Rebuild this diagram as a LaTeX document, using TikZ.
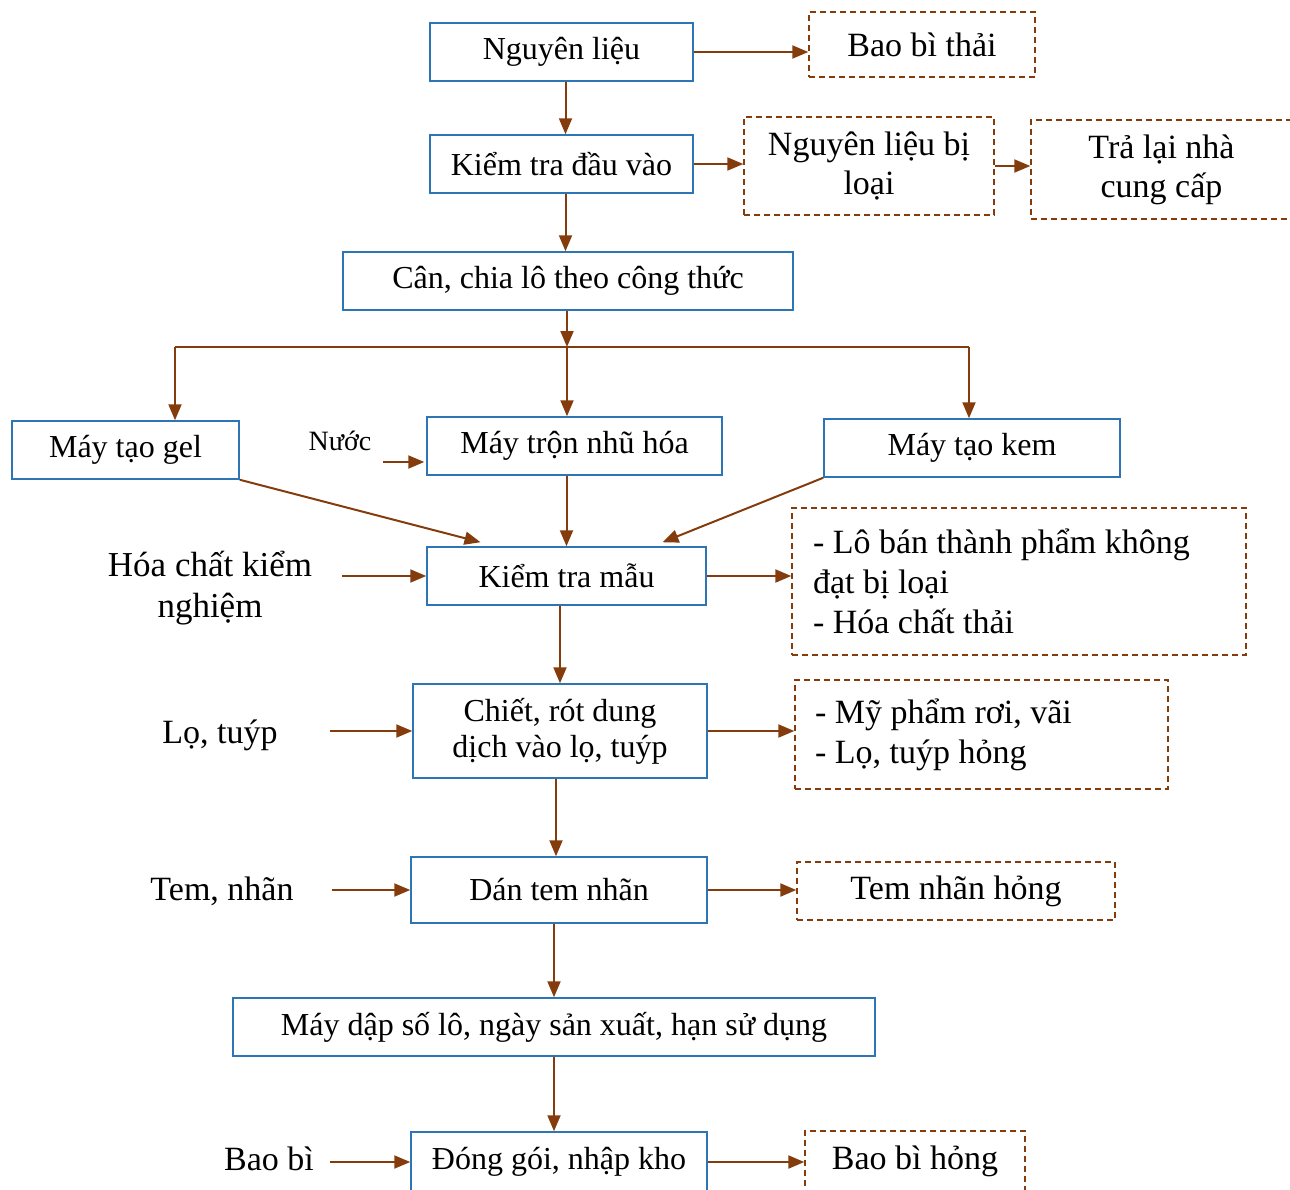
\documentclass[tikz,border=0pt]{standalone}
\usepackage{fontspec}
\setmainfont{Liberation Serif}
\usepackage{tikz}
\usetikzlibrary{
  positioning,
  arrows.meta,
  calc
}
\definecolor{boxborder}{RGB}{46,117,182}
\definecolor{wasteborder}{RGB}{132,60,12}
\definecolor{arrowcolor}{RGB}{132,60,12}
\tikzset{
  procbox/.style={
    draw=boxborder, line width=0.75pt,
    font=\fontsize{16}{18}\selectfont, align=center, inner sep=2pt
  },
  wastebox/.style={
    draw=wasteborder, line width=0.7pt, dash pattern=on 3pt off 2pt,
    font=\fontsize{17}{19.5}\selectfont, align=center
  },
  listbox/.style={
    wastebox, align=flush left, font=\fontsize{17}{20}\selectfont
  },
  inputlabel/.style={
    font=\fontsize{17}{20}\selectfont, align=center, inner sep=0pt
  },
  bigarrow/.style={
    -{Triangle[length=8pt,width=6.5pt]}, line width=1pt, draw=arrowcolor
  }
}

\begin{document}
\begin{tikzpicture}[x=0.5pt, y=-0.5pt]

    \useasboundingbox (0,0) rectangle (1290,1189);

    \node[procbox, minimum width=131.5pt, minimum height=29pt] (nl) at (561.5,52) {Nguyên liệu};
    \node[procbox, minimum width=131.5pt, minimum height=29pt] (ktdv) at (561.5,164) {Kiểm tra đầu vào};
    \node[procbox, minimum width=225pt, minimum height=29pt] (can) at (568,281) {Cân, chia lô theo công thức};

    \node[procbox, minimum width=113.5pt, minimum height=29pt] (gel) at (125.5,450) {Máy tạo gel};
    \node[procbox, minimum width=147.5pt, minimum height=29pt] (tron) at (574.5,446) {Máy trộn nhũ hóa};
    \node[procbox, minimum width=148pt, minimum height=29pt] (kem) at (972,448) {Máy tạo kem};

    \node[procbox, minimum width=139.5pt, minimum height=29pt] (ktm) at (566.5,576) {Kiểm tra mẫu};
    \node[procbox, minimum width=147pt, minimum height=47pt] (chiet) at (560,731) {Chiết, rót dung\\dịch vào lọ, tuýp};
    \node[procbox, minimum width=148pt, minimum height=33pt] (dan) at (559,890) {Dán tem nhãn};
    \node[procbox, minimum width=321pt, minimum height=29pt] (dap) at (554,1027) {Máy dập số lô, ngày sản xuất, hạn sử dụng};
    \node[procbox, minimum width=148pt, minimum height=30pt] (dong) at (559,1162) {Đóng gói, nhập kho};

    \node[wastebox, minimum width=113pt, minimum height=32.5pt] (w1) at (922,44.5) {Bao bì thải};
    \node[wastebox, minimum width=125pt, minimum height=49pt] (w2) at (869,166) {Nguyên liệu bị\\loại};
    \node[wastebox, minimum width=130.5pt, minimum height=49.5pt] (w3) at (1161.5,169.5) {Trả lại nhà\\cung cấp};
    \node[listbox, minimum width=227pt, minimum height=73.5pt, inner xsep=10.5pt, text width=206pt] (w4) at (1019,581.5) {- Lô bán thành phẩm không\\đạt bị loại\\- Hóa chất thải};
    \node[listbox, minimum width=186.5pt, minimum height=54.5pt, inner xsep=10pt, text width=166.5pt] (w5) at (981.5,734.5) {- Mỹ phẩm rơi, vãi\\- Lọ, tuýp hỏng};
    \node[wastebox, minimum width=159pt, minimum height=29pt] (w6) at (956,891) {Tem nhãn hỏng};
    \node[wastebox, minimum width=110pt, minimum height=30.5pt] (w7) at (915,1161.5) {Bao bì hỏng};

    \node[inputlabel, font=\fontsize{14}{16}\selectfont] (nuoc) at (340,441) {Nước};
    \node[inputlabel, font=\fontsize{17.5}{20.5}\selectfont] (hoachat) at (210,588) {Hóa chất kiểm\\nghiệm};
    \node[inputlabel] (lotuyp) at (220,735) {Lọ, tuýp};
    \node[inputlabel] (temnhan) at (222,891) {Tem, nhãn};
    \node[inputlabel] (baobi) at (269,1159) {Bao bì};

    \coordinate (bus) at (567,347);
    \coordinate (busL) at (175,347);
    \coordinate (busR) at (969,347);

    \draw[bigarrow] (nl.east) -- (nl.east -| w1.west);
    \draw[bigarrow] ([xshift=2pt]nl.south) -- ([xshift=2pt]nl.south |- ktdv.north);
    \draw[bigarrow] (ktdv.east) -- (ktdv.east -| w2.west);
    \draw[bigarrow] (w2.east) -- (w2.east -| w3.west);
    \draw[bigarrow] ([xshift=2pt]ktdv.south) -- ([xshift=2pt]ktdv.south |- can.north);

    \draw[bigarrow] (can.south -| bus) -- (bus);
    \draw[arrowcolor, line width=1pt] (busL) -- (busR);
    \draw[bigarrow] (busL) -- (busL |- gel.north);
    \draw[bigarrow] (bus) -- (bus |- tron.north);
    \draw[bigarrow] (busR) -- (busR |- kem.north);

    \draw[bigarrow] ($(tron.west)+(-21.5pt,-8pt)$) -- ($(tron.west)+(-1pt,-8pt)$);
    \draw[bigarrow] (gel.south east) -- ([xshift=-43pt,yshift=2pt]ktm.north);
    \draw[bigarrow] (tron.south -| ktm.north) -- (ktm.north);
    \draw[bigarrow] (kem.south west) -- ([xshift=48pt,yshift=2pt]ktm.north);

    \draw[bigarrow] ($(ktm.west)+(-42pt,0)$) -- (ktm.west);
    \draw[bigarrow] (ktm.east) -- (ktm.east -| w4.west);
    \draw[bigarrow] (chiet.north |- ktm.south) -- (chiet.north);

    \draw[bigarrow] ($(chiet.west)+(-41pt,0)$) -- (chiet.west);
    \draw[bigarrow] (chiet.east) -- (chiet.east -| w5.west);
    \draw[bigarrow] ([xshift=-2pt]chiet.south) -- ([xshift=-2pt]chiet.south |- dan.north);

    \draw[bigarrow] ($(dan.west)+(-39pt,0)$) -- (dan.west);
    \draw[bigarrow] (dan.east) -- (dan.east -| w6.west);
    \draw[bigarrow] (dap.north |- dan.south) -- (dap.north);
    \draw[bigarrow] (dap.south) -- (dap.south |- dong.north);

    \draw[bigarrow] ($(dong.west)+(-40pt,0)$) -- (dong.west);
    \draw[bigarrow] (dong.east) -- (dong.east -| w7.west);

  \end{tikzpicture}
\end{document}
